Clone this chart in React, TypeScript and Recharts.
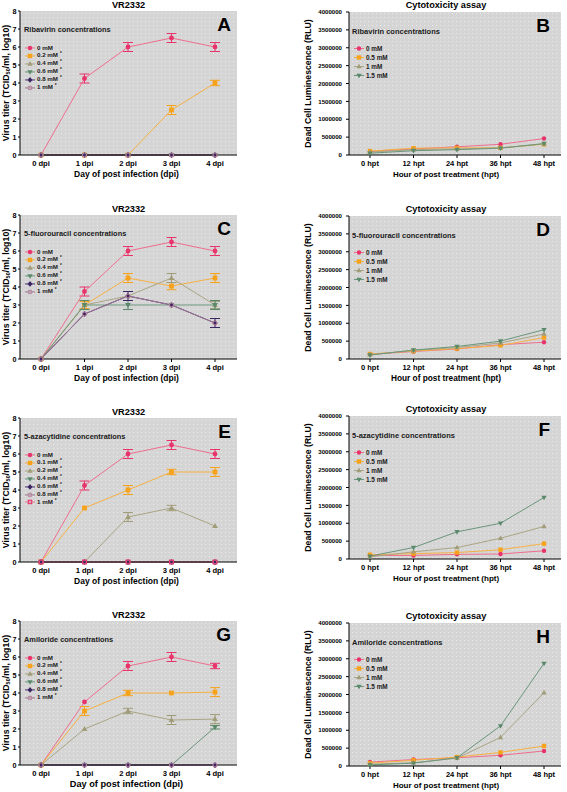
import React from 'react';
import { LineChart, Line, XAxis, YAxis, CartesianGrid, ErrorBar, Legend } from 'recharts';

const FONT = '"Liberation Sans", Arial, Helvetica, sans-serif';

// ---------- categories & ticks ----------
const dpiLabels = ['0 dpi', '1 dpi', '2 dpi', '3 dpi', '4 dpi'];
const hptLabels = ['0 hpt', '12 hpt', '24 hpt', '36 hpt', '48 hpt'];
const titerTicks = [0, 1, 2, 3, 4, 5, 6, 7, 8];
const rluTicks = [0, 500000, 1000000, 1500000, 2000000, 2500000, 3000000, 3500000, 4000000];

// ---------- Panel A: Ribavirin (virus titer) ----------
const ribavirinConc = ['0 mM', '0.2 mM*', '0.4 mM*', '0.6 mM*', '0.8 mM*', '1 mM*'];
const ribavirinTiter = [
  [0, 4.25, 6, 6.5, 6],
  [0, 0, 0, 2.5, 4],
  [0, 0, 0, 0, 0],
  [0, 0, 0, 0, 0],
  [0, 0, 0, 0, 0],
  [0, 0, 0, 0, 0],
];
const ribavirinTiterErr = [
  [0, 0.25, 0.25, 0.25, 0.25],
  [0, 0, 0, 0.25, 0.15],
  [0, 0, 0, 0, 0],
  [0, 0, 0, 0, 0],
  [0, 0, 0, 0, 0],
  [0, 0, 0, 0, 0],
];

// ---------- Panel C: 5-fluorouracil ----------
const fluorouracilConc = ['0 mM', '0.2 mM*', '0.4 mM*', '0.6 mM*', '0.8 mM*', '1 mM*'];
const fluorouracilTiter = [
  [0, 3.75, 6, 6.5, 6],
  [0, 3, 4.5, 4.05, 4.5],
  [0, 3, 3.5, 4.5, 3],
  [0, 3, 3, 3, 3],
  [0, 2.5, 3.5, 3, 2],
  [0, 2.5, 3.5, 3, 2],
];
const fluorouracilTiterErr = [
  [0, 0.25, 0.25, 0.25, 0.25],
  [0, 0.2, 0.25, 0.2, 0.25],
  [0, 0, 0, 0.25, 0.2],
  [0, 0.25, 0.25, 0, 0.25],
  [0, 0, 0.25, 0, 0.25],
  [0, 0, 0, 0, 0],
];

// ---------- Panel E: 5-azacytidine ----------
const azacytidineConc = ['0 mM', '0.1 mM*', '0.2 mM*', '0.4 mM*', '0.6 mM*', '0.8 mM*', '1 mM*'];
const azacytidineTiter = [
  [0, 4.25, 6, 6.5, 6],
  [0, 3, 4, 5, 5],
  [0, 0, 2.5, 3, 2],
  [0, 0, 0, 0, 0],
  [0, 0, 0, 0, 0],
  [0, 0, 0, 0, 0],
  [0, 0, 0, 0, 0],
];
const azacytidineTiterErr = [
  [0, 0.25, 0.25, 0.25, 0.25],
  [0, 0, 0.25, 0.15, 0.25],
  [0, 0, 0.25, 0.15, 0],
  [0, 0, 0, 0, 0],
  [0, 0, 0, 0, 0],
  [0, 0, 0, 0, 0],
  [0, 0, 0, 0, 0],
];

// ---------- Panel G: Amiloride ----------
const amilorideConc = ['0 mM', '0.2 mM*', '0.4 mM*', '0.6 mM*', '0.8 mM*', '1 mM*'];
const amilorideTiter = [
  [0, 3.5, 5.5, 6, 5.5],
  [0, 3, 4, 4, 4.05],
  [0, 2, 3, 2.5, 2.55],
  [0, 0, 0, 0, 2.1],
  [0, 0, 0, 0, 0],
  [0, 0, 0, 0, 0],
];
const amilorideTiterErr = [
  [0, 0, 0.25, 0.25, 0.15],
  [0, 0.25, 0.15, 0, 0.25],
  [0, 0, 0.15, 0.25, 0.25],
  [0, 0, 0, 0, 0.1],
  [0, 0, 0, 0, 0],
  [0, 0, 0, 0, 0],
];

// ---------- Cytotoxicity panels B, D, F, H ----------
const cytoConc = ['0 mM', '0.5 mM', '1 mM', '1.5 mM'];
const ribavirinRLU = [
  [100000, 170000, 230000, 300000, 460000],
  [110000, 190000, 200000, 200000, 300000],
  [80000, 150000, 170000, 200000, 310000],
  [50000, 120000, 150000, 190000, 320000],
];
const fluorouracilRLU = [
  [130000, 210000, 280000, 400000, 470000],
  [140000, 220000, 290000, 380000, 600000],
  [120000, 240000, 320000, 450000, 700000],
  [110000, 250000, 350000, 500000, 820000],
];
const azacytidineRLU = [
  [100000, 100000, 130000, 140000, 230000],
  [120000, 150000, 180000, 260000, 430000],
  [60000, 200000, 320000, 580000, 910000],
  [80000, 320000, 760000, 1000000, 1720000],
];
const amilorideRLU = [
  [110000, 180000, 230000, 300000, 420000],
  [80000, 160000, 250000, 380000, 560000],
  [50000, 90000, 220000, 800000, 2050000],
  [30000, 80000, 230000, 1120000, 2870000],
];

// ---------- styles ----------
type Sty = { shape: string; marker: string; line: string };
const PINK: Sty = { shape: 'circle', marker: '#e8336b', line: '#ef6d8d' };
const ORANGE: Sty = { shape: 'square', marker: '#f7a21b', line: '#f7b041' };
const OLIVE: Sty = { shape: 'triUp', marker: '#a19c78', line: '#aaa583' };
const GREEN: Sty = { shape: 'triDown', marker: '#5a8a6b', line: '#6a967a' };
const PURPLE: Sty = { shape: 'diamond', marker: '#3b2462', line: '#4a3270' };
const MAUVE: Sty = { shape: 'openCircle', marker: '#b7889f', line: '#a07593' };
const PINKSQ: Sty = { shape: 'openSquare', marker: '#e8336b', line: '#ee7d97' };
const virusStyles6 = [PINK, ORANGE, OLIVE, GREEN, PURPLE, MAUVE];
const virusStyles7 = [PINK, ORANGE, OLIVE, GREEN, PURPLE, MAUVE, PINKSQ];
const cytoStyles = [PINK, ORANGE, OLIVE, GREEN];

function buildRows(labels: string[], values: number[][], errors?: number[][]) {
  return labels.map((x, j) => {
    const r: any = { x };
    values.forEach((s, i) => {
      r['s' + i] = s[j];
      if (errors) r['e' + i] = errors[i][j];
    });
    return r;
  });
}

function Marker({ shape, x, y, color, r }: any) {
  switch (shape) {
    case 'square':
      return <rect x={x - r} y={y - r} width={2 * r} height={2 * r} fill={color} />;
    case 'triUp':
      return <polygon points={`${x},${y - r * 1.3} ${x + r * 1.2},${y + r * 0.8} ${x - r * 1.2},${y + r * 0.8}`} fill={color} />;
    case 'triDown':
      return <polygon points={`${x},${y + r * 1.3} ${x + r * 1.2},${y - r * 0.8} ${x - r * 1.2},${y - r * 0.8}`} fill={color} />;
    case 'diamond':
      return <polygon points={`${x},${y - r * 1.3} ${x + r * 1.1},${y} ${x},${y + r * 1.3} ${x - r * 1.1},${y}`} fill={color} />;
    case 'openCircle':
      return <circle cx={x} cy={y} r={r - 0.4} fill="none" stroke={color} strokeWidth={1.1} />;
    case 'openSquare':
      return <rect x={x - r + 0.5} y={y - r + 0.5} width={2 * r - 1} height={2 * r - 1} fill="none" stroke={color} strokeWidth={1.1} />;
    default:
      return <circle cx={x} cy={y} r={r} fill={color} />;
  }
}

function idxOf(e: any) {
  const k = String(e && e.dataKey != null ? e.dataKey : 's0');
  return parseInt(k.slice(1), 10) || 0;
}

function makeLegend(heading: string, styles: Sty[], cfg: any) {
  return (props: any) => {
    const payload = [...(props.payload || [])].sort((a: any, b: any) => idxOf(a) - idxOf(b));
    return (
      <div style={{ fontFamily: FONT, fontWeight: 'bold', color: '#1a1a1a', textAlign: 'left' }}>
        <div style={{ fontSize: cfg.headSize, lineHeight: '8px', height: 8, whiteSpace: 'nowrap' }}>{heading}</div>
        <div style={{ height: cfg.gap }} />
        {payload.map((e: any) => {
          const i = idxOf(e);
          const st = styles[i];
          const name = String(e.value);
          const star = name.endsWith('*');
          const base = star ? name.slice(0, -1) : name;
          return (
            <div
              key={i}
              style={{ display: 'flex', alignItems: 'center', height: cfg.rowH, whiteSpace: 'nowrap', fontSize: cfg.itemSize, lineHeight: cfg.rowH + 'px' }}
            >
              <svg width={cfg.svgW} height={cfg.rowH} style={{ display: 'block', flex: 'none' }}>
                <line x1={cfg.mx - 5} x2={cfg.mx + 5} y1={cfg.rowH / 2} y2={cfg.rowH / 2} stroke={st.line} strokeWidth={1} />
                <Marker shape={st.shape} x={cfg.mx} y={cfg.rowH / 2} r={cfg.r} color={st.marker} />
              </svg>
              <span style={{ marginLeft: 1 }}>
                {base}
                {star && <span style={{ fontSize: cfg.itemSize * 0.75, position: 'relative', top: -2, marginLeft: 2 }}>*</span>}
              </span>
            </div>
          );
        })}
      </div>
    );
  };
}

function overlayText(cx: number, baseline: number, fs: number, anchor: 'middle' | 'end'): React.CSSProperties {
  return {
    position: 'absolute',
    left: cx,
    top: baseline - 0.8465 * fs,
    fontSize: fs,
    lineHeight: fs + 'px',
    fontWeight: 'bold',
    fontFamily: FONT,
    whiteSpace: 'nowrap',
    color: '#000',
    transform: anchor === 'middle' ? 'translateX(-50%)' : 'translateX(-100%)',
  };
}

function DotPattern({ id }: { id: string }) {
  return (
    <defs>
      <pattern id={id} width={4} height={4} patternUnits="userSpaceOnUse">
        <rect width={4} height={4} fill="#d5d5d5" />
        <rect x={1} y={1} width={1} height={1} fill="#eaeaea" />
      </pattern>
    </defs>
  );
}

const tickStyle = (fs: number) => ({ fontSize: fs, fontWeight: 'bold', fill: '#000', fontFamily: FONT });

function renderDot(st: Sty, i: number, r: number) {
  return (p: any) => {
    const key = `d${i}-${p.index}`;
    if (p.cx == null || p.cy == null) return <g key={key} />;
    return (
      <g key={key}>
        <Marker shape={st.shape} x={p.cx} y={p.cy} r={r} color={st.marker} />
      </g>
    );
  };
}

function VirusPanel({ top, title, letter, heading, names, values, errors, styles, id, xTitleSize }: any) {
  const rows = buildRows(dpiLabels, values, errors);
  const plotTop = top + 11;
  const legendCfg = { headSize: 7.4, itemSize: 6.2, rowH: 7.9, gap: 10.05, svgW: 12, mx: 6, r: 2.2 };
  return (
    <>
      <div style={overlayText(128.5, plotTop - 2, 9.2, 'middle')}>{title}</div>
      <div style={{ position: 'absolute', left: 0, top }}>
        <LineChart width={283} height={185} data={rows} margin={{ top: 11, right: 46, bottom: 0, left: 0 }}>
          <DotPattern id={id} />
          <CartesianGrid fill={`url(#${id})`} stroke="none" horizontal={false} vertical={false} />
          <XAxis
            dataKey="x"
            padding={{ left: 21, right: 22 }}
            height={30}
            tickSize={3}
            tickMargin={2.5}
            interval={0}
            axisLine={{ stroke: '#000' }}
            tickLine={{ stroke: '#000' }}
            tick={tickStyle(7.6)}
            label={(p: any) => {
              const vb = p.viewBox || {};
              return (
                <text x={(vb.x || 0) + (vb.width || 0) / 2 - 2} y={(vb.y || 0) + 21.5} textAnchor="middle" fill="#000" style={{ fontFamily: FONT, fontSize: xTitleSize || 8.5, fontWeight: 'bold' }}>
                  Day of post infection (dpi)
                </text>
              );
            }}
          />
          <YAxis
            domain={[0, 8]}
            ticks={titerTicks}
            width={20}
            tickSize={2}
            tickMargin={1.5}
            interval={0}
            axisLine={{ stroke: '#000' }}
            tickLine={{ stroke: '#000' }}
            tick={tickStyle(7.2)}
            label={(p: any) => {
              const vb = p.viewBox || {};
              const cx = (vb.x || 0) + 6;
              const cy = (vb.y || 0) + (vb.height || 0) / 2;
              return (
                <text x={cx} y={cy} transform={`rotate(-90 ${cx} ${cy})`} textAnchor="middle" dominantBaseline="central" fill="#000" style={{ fontFamily: FONT, fontSize: 8.8, fontWeight: 'bold' }}>
                  Virus titer (TCID<tspan fontSize={5.5} dy={2}>50</tspan>
                  <tspan dy={-2}>/ml, log10)</tspan>
                </text>
              );
            }}
          />
          <Legend
            layout="vertical"
            align="center"
            verticalAlign="middle"
            wrapperStyle={{ left: 24, top: 26, width: 'auto', height: 'auto' }}
            content={makeLegend(heading, styles, legendCfg)}
          />
          {values.map((_: any, i: number) => {
            const st = styles[i];
            const hasErr = errors[i].some((v: number) => v > 0);
            return (
              <Line
                key={i}
                type="linear"
                dataKey={'s' + i}
                name={names[i]}
                stroke={st.line}
                strokeWidth={1}
                dot={renderDot(st, i, 2.4)}
                activeDot={false}
                isAnimationActive={false}
              >
                {hasErr && <ErrorBar dataKey={'e' + i} width={5} strokeWidth={1} stroke={st.marker} direction="y" />}
              </Line>
            );
          })}
        </LineChart>
      </div>
      <div style={overlayText(231, plotTop + 20, 19, 'end')}>{letter}</div>
    </>
  );
}

function CytoPanel({ top, letter, heading, values, id, xTitleSize }: any) {
  const rows = buildRows(hptLabels, values);
  const plotTop = top + 12;
  const legendCfg = { headSize: 7.5, itemSize: 6.4, rowH: 9, gap: 8.5, svgW: 13, mx: 7, r: 2.2 };
  return (
    <>
      <div style={overlayText(446, plotTop - 3.5, 9.2, 'middle')}>Cytotoxicity assay</div>
      <div style={{ position: 'absolute', left: 283, top }}>
        <LineChart width={284} height={185} data={rows} margin={{ top: 12, right: 6, bottom: 0, left: 0 }}>
          <DotPattern id={id} />
          <CartesianGrid fill={`url(#${id})`} stroke="none" horizontal={false} vertical={false} />
          <XAxis
            dataKey="x"
            padding={{ left: 21, right: 17 }}
            height={30}
            tickSize={3}
            tickMargin={2.5}
            interval={0}
            axisLine={{ stroke: '#000' }}
            tickLine={{ stroke: '#000' }}
            tick={tickStyle(7.5)}
            label={(p: any) => {
              const vb = p.viewBox || {};
              return (
                <text x={(vb.x || 0) + (vb.width || 0) / 2 - 9} y={(vb.y || 0) + 21.5} textAnchor="middle" fill="#000" style={{ fontFamily: FONT, fontSize: xTitleSize || 8, fontWeight: 'bold' }}>
                  Hour of post treatment (hpt)
                </text>
              );
            }}
          />
          <YAxis
            domain={[0, 4000000]}
            ticks={rluTicks}
            width={66}
            tickSize={3}
            tickMargin={4}
            interval={0}
            axisLine={{ stroke: '#000' }}
            tickLine={{ stroke: '#000' }}
            tick={tickStyle(6.1)}
            label={(p: any) => {
              const vb = p.viewBox || {};
              const cx = (vb.x || 0) + 25;
              const cy = (vb.y || 0) + (vb.height || 0) / 2;
              return (
                <text x={cx} y={cy} transform={`rotate(-90 ${cx} ${cy})`} textAnchor="middle" dominantBaseline="central" fill="#000" style={{ fontFamily: FONT, fontSize: 8.7, fontWeight: 'bold' }}>
                  Dead Cell Luminescence (RLU)
                </text>
              );
            }}
          />
          <Legend
            layout="vertical"
            align="center"
            verticalAlign="middle"
            wrapperStyle={{ left: 69, top: 27.5, width: 'auto', height: 'auto' }}
            content={makeLegend(heading, cytoStyles, legendCfg)}
          />
          {values.map((_: any, i: number) => {
            const st = cytoStyles[i];
            return (
              <Line
                key={i}
                type="linear"
                dataKey={'s' + i}
                name={cytoConc[i]}
                stroke={st.line}
                strokeWidth={1}
                dot={renderDot(st, i, 2.2)}
                activeDot={false}
                isAnimationActive={false}
              />
            );
          })}
        </LineChart>
      </div>
      <div style={overlayText(550, plotTop + 20, 19, 'end')}>{letter}</div>
    </>
  );
}

export default function App() {
  return (
    <div style={{ position: 'absolute', left: 0, top: 0, width: 567, height: 792, background: '#fff', overflow: 'hidden', fontFamily: FONT }}>
      <VirusPanel top={0} id="pA" title="VR2332" letter="A" heading="Ribavirin concentrations" names={ribavirinConc} values={ribavirinTiter} errors={ribavirinTiterErr} styles={virusStyles6} />
      <CytoPanel top={0} id="pB" letter="B" heading="Ribavirin concentrations" values={ribavirinRLU} />
      <VirusPanel top={204} id="pC" title="VR2332" letter="C" heading="5-fluorouracil concentrations" names={fluorouracilConc} values={fluorouracilTiter} errors={fluorouracilTiterErr} styles={virusStyles6} />
      <CytoPanel top={204} id="pD" letter="D" heading="5-fluorouracil concentrations" values={fluorouracilRLU} xTitleSize={8.3} />
      <VirusPanel top={407} id="pE" title="VR2332" letter="E" heading="5-azacytidine concentrations" names={azacytidineConc} values={azacytidineTiter} errors={azacytidineTiterErr} styles={virusStyles7} />
      <CytoPanel top={404} id="pF" letter="F" heading="5-azacytidine concentrations" values={azacytidineRLU} />
      <VirusPanel top={610} id="pG" title="VR2332" letter="G" heading="Amiloride concentrations" names={amilorideConc} values={amilorideTiter} errors={amilorideTiterErr} styles={virusStyles6} xTitleSize={9.2} />
      <CytoPanel top={611} id="pH" letter="H" heading="Amiloride concentrations" values={amilorideRLU} />
    </div>
  );
}
